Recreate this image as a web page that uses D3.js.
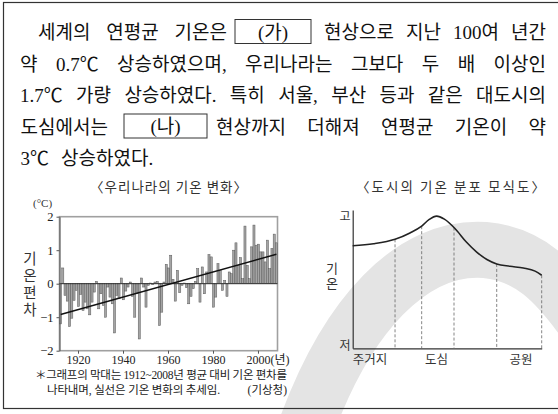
<!DOCTYPE html>
<html>
<head>
<meta charset="utf-8">
<script src="https://cdn.jsdelivr.net/npm/d3@7"></script>
<style>
  body { margin: 0; background: #fff; }
  svg { display: block; }
</style>
</head>
<body>
<svg id="chart" width="558" height="414"></svg>
<script>
// 1912-2008 temperature anomaly (°C)
const yearStart = 1912;
const anomaly = [
  -1.2, 0.47, -0.35, -0.52, -1.28, -1.03, -0.5, -0.2,
  -0.68, -0.32, -0.8, -0.55, -0.75, -0.93, -0.55, -0.25, 0.07, -0.75,
  -0.3, -0.65, -1.0, -0.1, -0.4, -0.6, -1.47, -0.35, -0.45, 0.17,
  -0.48, -0.22, -0.1, 0.05, -0.38, -1.0, -0.3, -1.65, 0.17, -0.1,
  -0.7, -0.05, 0.02, -0.03, 0.05, 0.07, -1.25, -0.85, 0.05, 0.58,
  0.47, 0.85, 0.13, -0.52, 0.4, -0.27, -0.05, 0.02, -0.12, -0.6,
  -0.38, -0.15, 0.07, 0.45, -0.55, 0.5, -0.3, 0.35, 0.87, 0.8,
  -0.7, -0.4, 0.6, 0.4, -0.2, 0.1, -0.38, 0.35, 0.3, 1.0,
  1.22, 0.55, 0.78, 0.15, 1.72, 0.55, 0.15, 1.1, 1.75, 1.15,
  1.18, 0.95, 0.95, 0.65, 1.3, 0.45, 1.05, 1.48, 1.22
];
const xTicks = [1920, 1940, 1960, 1980, 2000];
const yTicks = [-2, -1, 0, 1, 2];
const trendYears = [1912, 2008];
const trendValues = [-0.92, 0.88];

// city temperature profile (position 0-100, temperature 0-100)
const profilePos  = [0, 11, 22.4, 30.3, 36.5, 40.5, 44.4, 48.5, 54.1, 60, 65.6, 71, 76.2, 83.2, 90.3, 96.5, 100];
const profileTemp = [74.2, 75.6, 78.8, 83.4, 88.3, 93.2, 95.6, 93.4, 86.6, 77, 69.6, 64.2, 61, 59.3, 58, 55.8, 52.8];
const dashPos  = [22.4, 36.5, 53.6, 76.2];
const dashTemp = [78.8, 88.3, 87.3, 61];
const zoneLabels = ["주거지", "도심", "공원"];
const zonePos = [9.2, 44.4, 89];

const svg = d3.select("#chart");
const serifKr = "'Liberation Serif', 'Noto Sans CJK KR', serif";
const sansKr = "'Noto Sans CJK KR', sans-serif";

// watermark swoosh
svg.append("path")
  .attr("d", "M 300 445 C 345 310, 415 245, 485 250 C 530 254, 556 283, 582 318")
  .attr("fill", "none")
  .attr("stroke", "#e4e4e4")
  .attr("stroke-width", 56);

// outer box
svg.append("rect")
  .attr("x", 3.5).attr("y", 2.5).attr("width", 570).attr("height", 406)
  .attr("fill", "none").attr("stroke", "#333").attr("stroke-width", 1.2);

// ---- paragraph ----
const para = svg.append("g")
  .attr("font-family", serifKr)
  .attr("font-size", 19)
  .attr("fill", "#111")
  .attr("dominant-baseline", "central");

function justify(words, x0, x1, y, gapFixed) {
  const nodes = words.map(w => para.append("text").attr("y", y).text(w));
  const widths = nodes.map(n => n.node().getComputedTextLength());
  const gap = gapFixed != null ? gapFixed
    : (words.length > 1 ? (x1 - x0 - d3.sum(widths)) / (words.length - 1) : 0);
  let x = x0;
  nodes.forEach((n, i) => { n.attr("x", x); x += widths[i] + gap; });
}

function blank(label, x0, x1, y) {
  para.append("rect")
    .attr("x", x0).attr("y", y - 12.5).attr("width", x1 - x0).attr("height", 24)
    .attr("fill", "none").attr("stroke", "#333").attr("stroke-width", 1);
  para.append("text")
    .attr("x", (x0 + x1) / 2).attr("y", y)
    .attr("text-anchor", "middle")
    .text(label);
}

justify(["세계의", "연평균", "기온은"], 38, 227, 32.5);
blank("(가)", 235, 311, 32);
justify(["현상으로", "지난", "100여", "년간"], 324, 546, 32.5);
justify(["약", "0.7℃", "상승하였으며,", "우리나라는", "그보다", "두", "배", "이상인"], 20, 546, 64);
justify(["1.7℃", "가량", "상승하였다.", "특히", "서울,", "부산", "등과", "같은", "대도시의"], 20, 546, 95.5);
justify(["도심에서는"], 20.5, 118, 127);
blank("(나)", 124, 207, 126.5);
justify(["현상까지", "더해져", "연평균", "기온이", "약"], 216, 546, 127);
justify(["3℃", "상승하였다."], 20.5, null, 158, 12);

// ---- subtitles ----
svg.append("text")
  .attr("x", 90).attr("y", 186)
  .attr("font-family", sansKr).attr("font-size", 13.5).attr("fill", "#333")
  .attr("dominant-baseline", "central")
  .attr("textLength", 157).attr("lengthAdjust", "spacing")
  .text("〈우리나라의 기온 변화〉");
svg.append("text")
  .attr("x", 356).attr("y", 186)
  .attr("font-family", sansKr).attr("font-size", 13.5).attr("fill", "#333")
  .attr("dominant-baseline", "central")
  .attr("textLength", 189).attr("lengthAdjust", "spacing")
  .text("〈도시의 기온 분포 모식도〉");

// ---- left: anomaly bars ----
const years = d3.range(yearStart, yearStart + anomaly.length);
const bars = years.map((yr, i) => ({ year: yr, value: anomaly[i] }));

const x = d3.scaleBand()
  .domain(years)
  .range([59.5, 277.5])
  .paddingInner(0.08);
const y = d3.scaleLinear()
  .domain([-2, 2])
  .range([350.7, 216.7]);

const left = svg.append("g");

left.append("rect")
  .attr("x", 59.5).attr("y", y(2))
  .attr("width", 277.5 - 59.5).attr("height", y(-2) - y(2))
  .attr("fill", "none").attr("stroke", "#a0a0a0").attr("stroke-width", 1.6);

left.append("g")
  .selectAll("rect")
  .data(bars)
  .join("rect")
  .attr("x", d => x(d.year))
  .attr("y", d => y(Math.max(0, d.value)))
  .attr("width", x.bandwidth())
  .attr("height", d => Math.abs(y(d.value) - y(0)))
  .attr("fill", "#a4a4a4")
  .attr("stroke", "#5a5a5a")
  .attr("stroke-width", 0.5);

left.append("line")
  .attr("x1", 59.5).attr("x2", 277.5)
  .attr("y1", y(0)).attr("y2", y(0))
  .attr("stroke", "#333").attr("stroke-width", 1);

const trend = d3.line()
  .x(d => x(d[0]) + x.bandwidth() / 2)
  .y(d => y(d[1]));
left.append("path")
  .attr("d", trend(trendYears.map((yr, i) => [yr, trendValues[i]])))
  .attr("fill", "none").attr("stroke", "#111").attr("stroke-width", 1.4);

const yAxis = left.append("g")
  .attr("transform", "translate(59.5,0)")
  .call(d3.axisLeft(y).tickValues(yTicks).tickSize(3).tickSizeOuter(0)
    .tickFormat(d => d < 0 ? "\u2212" + Math.abs(d) : d));
yAxis.select(".domain").attr("stroke", "#555");
yAxis.selectAll("line").attr("stroke", "#555");
yAxis.selectAll("text")
  .attr("font-family", "'Liberation Serif', serif").attr("font-size", 12.5).attr("fill", "#222");

const xAxis = left.append("g")
  .attr("transform", `translate(0,${y(-2)})`)
  .call(d3.axisBottom(x).tickValues(xTicks).tickSize(3).tickSizeOuter(0));
xAxis.select(".domain").remove();
xAxis.selectAll("line").attr("stroke", "#555");
xAxis.selectAll("text")
  .attr("font-family", serifKr).attr("font-size", 12).attr("fill", "#222")
  .attr("dy", "0.6em");
xAxis.selectAll(".tick").filter(d => d === 2000).select("text")
  .attr("text-anchor", "start").attr("x", -12)
  .text("2000(년)");

left.append("text")
  .attr("x", 33).attr("y", 203)
  .attr("font-family", serifKr).attr("font-size", 11).attr("fill", "#333")
  .attr("dominant-baseline", "central")
  .text("(°C)");

// vertical axis title
left.append("text")
  .attr("x", 30).attr("y", 251)
  .attr("writing-mode", "vertical-rl")
  .attr("text-orientation", "upright")
  .attr("letter-spacing", 2.5)
  .attr("font-family", sansKr).attr("font-size", 14.5).attr("fill", "#333")
  .text("기온편차");

const note = left.append("g")
  .attr("font-family", serifKr).attr("font-size", 11.5).attr("fill", "#222")
  .attr("dominant-baseline", "central");
note.append("text").attr("x", 35).attr("y", 375)
  .attr("textLength", 252).attr("lengthAdjust", "spacing")
  .text("＊그래프의 막대는 1912~2008년 평균 대비 기온 편차를");
note.append("text").attr("x", 47).attr("y", 390)
  .attr("textLength", 173).attr("lengthAdjust", "spacing")
  .text("나타내며, 실선은 기온 변화의 추세임.");
note.append("text").attr("x", 287).attr("y", 390)
  .attr("text-anchor", "end")
  .text("(기상청)");

// ---- right: city temperature profile ----
const px = d3.scaleLinear().domain([0, 100]).range([352.7, 541.7]);
const py = d3.scaleLinear().domain([0, 100]).range([348.3, 210]);

const right = svg.append("g");

right.append("g")
  .attr("transform", `translate(${px(0)},0)`)
  .call(d3.axisLeft(py).tickValues([]).tickSizeOuter(0))
  .select(".domain").attr("stroke", "#333").attr("stroke-width", 1.2);
right.append("g")
  .attr("transform", `translate(0,${py(0)})`)
  .call(d3.axisBottom(px).tickValues([]).tickSizeOuter(0))
  .select(".domain").attr("stroke", "#333").attr("stroke-width", 1.2);

right.append("g")
  .selectAll("line")
  .data(dashPos.map((p, i) => ({ p, t: dashTemp[i] })))
  .join("line")
  .attr("x1", d => px(d.p)).attr("x2", d => px(d.p))
  .attr("y1", d => py(d.t)).attr("y2", py(0))
  .attr("stroke", "#666").attr("stroke-width", 0.8)
  .attr("stroke-dasharray", "3,2");

// right end drop line to axis
right.append("line")
  .attr("x1", px(100)).attr("x2", px(100))
  .attr("y1", py(profileTemp[profileTemp.length - 1])).attr("y2", py(0))
  .attr("stroke", "#666").attr("stroke-width", 0.8)
  .attr("stroke-dasharray", "3,2");

const profile = d3.line()
  .x(d => px(d[0]))
  .y(d => py(d[1]))
  .curve(d3.curveMonotoneX);
right.append("path")
  .attr("d", profile(profilePos.map((p, i) => [p, profileTemp[i]])))
  .attr("fill", "none").attr("stroke", "#222").attr("stroke-width", 1.6);

const rlab = right.append("g")
  .attr("font-family", sansKr).attr("fill", "#333")
  .attr("dominant-baseline", "central").attr("text-anchor", "middle");
rlab.append("text").attr("x", 345).attr("y", py(96)).attr("font-size", 12).text("고");
rlab.append("text").attr("x", 345).attr("y", py(3)).attr("font-size", 12).text("저");
right.append("text")
  .attr("x", 332).attr("y", 262)
  .attr("writing-mode", "vertical-rl")
  .attr("text-orientation", "upright")
  .attr("letter-spacing", 2)
  .attr("font-family", sansKr).attr("font-size", 13).attr("fill", "#333")
  .text("기온");
rlab.selectAll(".zone")
  .data(zoneLabels)
  .join("text")
  .attr("class", "zone")
  .attr("x", (d, i) => px(zonePos[i]))
  .attr("y", 358)
  .attr("font-size", 12.5)
  .text(d => d);
</script>
</body>
</html>
